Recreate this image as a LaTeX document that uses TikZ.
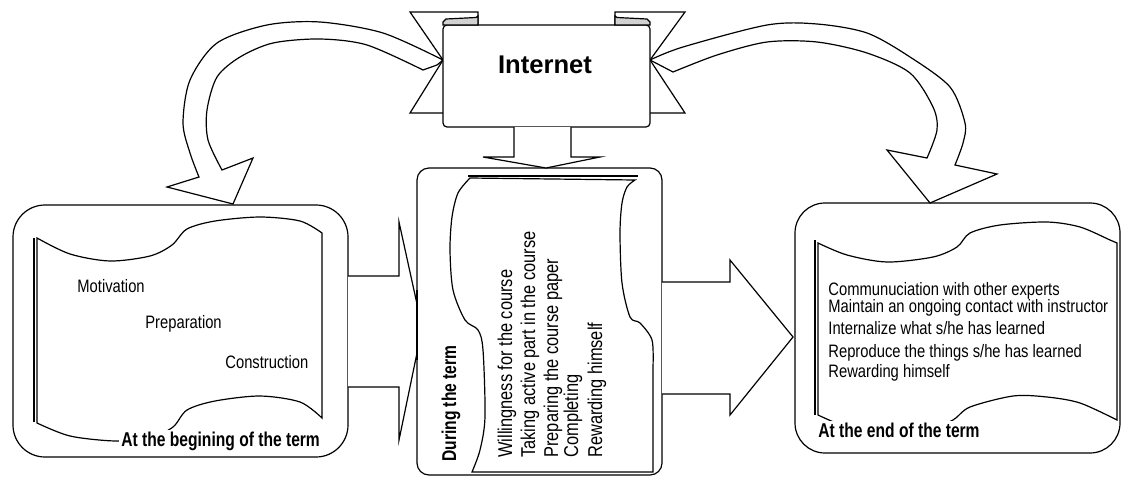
\documentclass[tikz,border=0pt]{standalone}
\usepackage{fontspec}
\setmainfont{Liberation Sans}
\newfontfamily\narrowsf[FakeStretch=0.82]{Liberation Sans}
\newfontfamily\narrowbf[FakeStretch=0.78]{Liberation Sans}
\usetikzlibrary{fit}

\tikzset{
  termbox/.style={draw, line width=0.6pt, inner sep=0pt},
  scroll/.style={draw, line width=0.6pt, fill=white},
  blockarrow/.style={draw, line width=0.6pt, fill=white, line join=miter},
  itemtext/.style={font=\narrowsf\fontsize{9}{10}\selectfont, inner sep=0pt, anchor=base west},
  midtext/.style={font=\narrowsf\fontsize{10}{11}\selectfont, inner sep=0pt, anchor=base west, rotate=90},
  titletext/.style={font=\narrowbf\bfseries\fontsize{10}{12}\selectfont, inner sep=1pt, fill=white, anchor=base west},
}

\begin{document}
\begin{tikzpicture}[x=0.5pt, y=-0.5pt]
  \useasboundingbox (0,0) rectangle (1122,477);

  \draw[blockarrow] plot[smooth] coordinates {(443,60) (383,33) (320,22) (267,25) (217,43) (190,80) (183,123) (190,153) (199,177)}
    -- (167,187) -- (233,204) -- (253,158)
    -- plot[smooth] coordinates {(222,170) (208,140) (207,110) (217,77) (240,57) (273,43) (320,39) (367,45) (423,70)}
    -- (437,65) -- cycle;
  \draw[blockarrow] plot[smooth] coordinates {(650,60) (683,47) (767,25) (817,24) (867,33) (910,57) (950,87) (965,123) (963,143) (955,165)}
    -- (997,174) -- (930,203) -- (887,150)
    -- plot[smooth] coordinates {(927,158) (937,130) (933,107) (910,73) (867,53) (817,42) (767,42) (717,55) (673,72)}
    -- cycle;

  \draw[blockarrow] (443,60) -- (410,12) -- (478,12) -- (478,113) -- (410,113) -- cycle;
  \draw[blockarrow] (650,60) -- (685,12) -- (615,12) -- (615,113) -- (685,113) -- cycle;
  \node[termbox, fill=white, rounded corners=2pt, fit={(443,25) (650,127)}] (internet) {};
  \draw[line width=0.6pt, fill=gray!35] (443,25) -- (443,22) -- (446,19) -- (476,17.5) -- (478,16) -- (478,25) -- cycle;
  \draw[line width=0.6pt, fill=gray!35] (650,25) -- (650,22) -- (647,19) -- (617,17.5) -- (615,16) -- (615,25) -- cycle;
  \node[font=\bfseries\fontsize{12.8}{14}\selectfont, inner sep=0pt, anchor=base] (inettext) at (545,73) {Internet};

  \node[termbox, rounded corners=16pt, fit={(13,205) (348,457)}] (begin) {};
  \node[termbox, rounded corners=6pt, fit={(417,168) (662,475)}] (during) {};
  \node[termbox, rounded corners=15pt, fit={(795,203) (1120,453)}] (end) {};

  \draw[blockarrow] (514,127) -- (514,157) -- (483,157) -- (546,168) -- (600,157) -- (571,157) -- (571,127);
  \draw[blockarrow] (348,276) -- (399,276) -- (399,222) -- (417,304) -- (417,353) -- (399,440) -- (399,387) -- (348,387);
  \draw[blockarrow] (662,282) -- (730,282) -- (730,260) -- (793,337) -- (730,415) -- (730,394) -- (662,394);
  \draw[line width=0.6pt] (417,290) -- (417,360);

  \draw[scroll] plot[smooth] coordinates {(37,238) (70,254) (110,261) (150,256) (172,245) (187,229) (215,221) (260,217) (300,221) (322,233)}
    -- (322,418)
    -- plot[smooth] coordinates {(322,418) (300,402) (260,396) (215,401) (187,410) (173,427) (150,438) (115,441) (70,436) (37,423)}
    -- cycle;
  \draw[line width=0.6pt] (34,238) -- (34,422);

  \draw[scroll] plot[smooth] coordinates {(818,243) (847,255) (887,262) (933,257) (957,247) (970,233) (1000,225) (1047,222) (1080,227) (1110,240) (1117,243)}
    -- (1117,420)
    -- plot[smooth] coordinates {(1117,420) (1080,403) (1047,397) (1013,396) (970,407) (953,420) (930,428) (887,432) (850,428) (818,415)}
    -- cycle;
  \draw[line width=0.6pt] (815,240) -- (815,415);

  \draw[scroll] plot[smooth] coordinates {(470,178) (458,193) (452,217) (450,250) (453,290) (465,320) (478,330) (483,350) (485,417) (480,450) (472,472)}
    -- (653,472) -- (653,367)
    -- plot[smooth] coordinates {(653,367) (652,340) (640,323) (630,317) (622,283) (620,233) (622,203) (627,187) (635,180)}
    -- cycle;
  \draw[line width=0.6pt] (468,176) -- (638,176);

  \node[itemtext] (motiv) at (77,292) {Motivation};
  \node[itemtext] (prep) at (145,328) {Preparation};
  \node[itemtext] (constr) at (225,368) {Construction};
  \node[titletext] (begintitle) at (119,446) {At the begining of the term};

  \node[midtext, font=\narrowbf\bfseries\fontsize{10}{12}\selectfont] (duringtitle) at (456,462) {During the term};
  \node[midtext] (will) at (512,458) {Willingness for the course};
  \node[midtext] (part) at (535,458) {Taking active part in the course};
  \node[midtext] (paper) at (558,458) {Preparing the course paper};
  \node[midtext] (compl) at (578,458) {Completing};
  \node[midtext] (rewmid) at (602,458) {Rewarding himself};

  \node[itemtext] (comm) at (828,295) {Communuciation with other experts};
  \node[itemtext] (maint) at (828,312) {Maintain an ongoing contact with instructor};
  \node[itemtext] (intern) at (828,334) {Internalize what s/he has learned};
  \node[itemtext] (repro) at (828,357) {Reproduce the things s/he has learned};
  \node[itemtext] (rewend) at (828,377) {Rewarding himself};
  \node[titletext] (endtitle) at (816,437) {At the end of the term};
\end{tikzpicture}
\end{document}
